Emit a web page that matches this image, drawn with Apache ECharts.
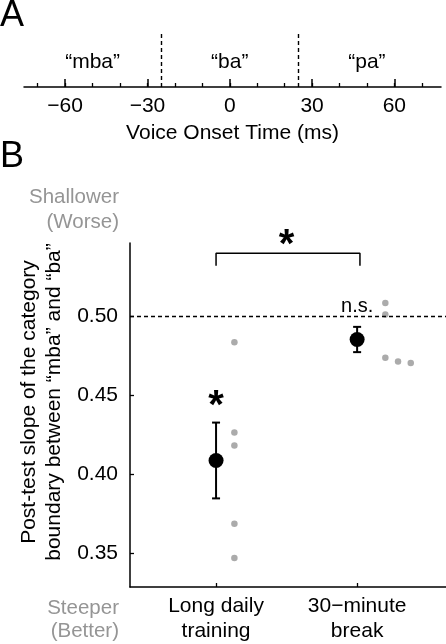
<!DOCTYPE html>
<html>
<head>
<meta charset="utf-8">
<script src="https://cdn.jsdelivr.net/npm/echarts@6/dist/echarts.min.js"></script>
<style>
html,body{margin:0;padding:0;background:#fff;}
#chart{width:446px;height:644px;}
</style>
</head>
<body>
<div id="chart"></div>
<script>
// ---------- Panel A data ----------
const aMajorTicks = [-60, -30, 0, 30, 60];
const aMinorTicks = [-70, -60, -50, -40, -30, -20, -10, 0, 10, 20, 30, 40, 50, 60, 70];
const aBoundaries = [-25, 25];
const aCategoryNames = ['“mba”', '“ba”', '“pa”'];
const aCategoryPos = [-50, 0, 50];

// ---------- Panel B data ----------
const groups = ['Long daily\ntraining', '30\u2212minute\nbreak'];
const groupPos = [1, 2];
const means = [0.4087, 0.4853];
const errLow = [0.3847, 0.4773];
const errHigh = [0.4327, 0.4933];
const dotsLong = [[1.13, 0.4836], [1.13, 0.4264], [1.13, 0.4182], [1.13, 0.3687], [1.13, 0.3469]];
const dotsBreak = [[2.2, 0.5084], [2.2, 0.5011], [2.2, 0.4738], [2.29, 0.4713], [2.38, 0.4704]];
const chanceLevel = 0.5;
const yTicks = [0.35, 0.40, 0.45, 0.50];
const bracketX = [1, 2.02];
const bracketY = [0.532, 0.5399];
const starMarks = [[1.5, 0.5504], [1, 0.4482]];
const nsMark = [2, 0.5061];

const FONT = '"Liberation Sans", Arial, Helvetica, sans-serif';
const FS = 21;
const GRAY_TEXT = '#959595';
const GRAY_DOT = '#ababab';

const chart = echarts.init(document.getElementById('chart'), null, {renderer: 'canvas'});

const option = {
  animation: false,
  backgroundColor: '#fff',
  textStyle: {fontFamily: FONT, color: '#000'},
  grid: [
    {left: 24, right: 5, top: 31, height: 56},
    {left: 24, right: 5, top: 31, height: 56},
    {left: 130, right: 0, top: 243, bottom: 55}
  ],
  xAxis: [
    {
      gridIndex: 0, type: 'value', min: -75, max: 77,
      axisLine: {show: true, lineStyle: {color: '#000', width: 1.5}},
      axisTick: {show: true, inside: true, length: 8, customValues: aMajorTicks, lineStyle: {color: '#000', width: 1.5}},
      axisLabel: {show: true, customValues: aMajorTicks, margin: 9, fontSize: FS, color: '#000', fontFamily: FONT,
        formatter: v => (v < 0 ? '\u2212' + Math.abs(v) : String(v))},
      splitLine: {show: false},
      name: 'Voice Onset Time (ms)', nameLocation: 'middle', nameGap: 36,
      nameTextStyle: {fontSize: FS, color: '#000', fontFamily: FONT}
    },
    {
      gridIndex: 1, type: 'value', min: -75, max: 77,
      axisLine: {show: false},
      axisTick: {show: true, inside: true, length: 4, customValues: aMinorTicks, lineStyle: {color: '#000', width: 1.3}},
      axisLabel: {show: false},
      splitLine: {show: false}
    },
    {
      gridIndex: 2, type: 'value', min: 0.39, max: 2.63,
      axisLine: {show: true, lineStyle: {color: '#000', width: 1.5}},
      axisTick: {show: true, inside: true, length: 4, customValues: groupPos, lineStyle: {color: '#000', width: 1.3}},
      axisLabel: {show: true, customValues: groupPos, margin: 7, fontSize: FS, lineHeight: 25, color: '#000', fontFamily: FONT,
        formatter: v => groups[groupPos.indexOf(v)] || ''},
      splitLine: {show: false}
    }
  ],
  yAxis: [
    {gridIndex: 0, type: 'value', min: 0, max: 1, show: false},
    {gridIndex: 1, type: 'value', min: 0, max: 1, show: false},
    {
      gridIndex: 2, type: 'value', min: 0.3286, max: 0.5464,
      axisLine: {show: true, lineStyle: {color: '#000', width: 1.5}},
      axisTick: {show: true, inside: true, length: 4, customValues: yTicks, lineStyle: {color: '#000', width: 1.3}},
      axisLabel: {show: true, customValues: yTicks, margin: 12, fontSize: FS, color: '#000', fontFamily: FONT,
        formatter: v => v.toFixed(2)},
      splitLine: {show: false},
      name: 'Post-test slope of the category\nboundary between “mba” and “ba”',
      nameLocation: 'middle', nameGap: 63, nameRotate: 90,
      nameTextStyle: {fontSize: FS, lineHeight: 25, color: '#000', fontFamily: FONT, padding: [0, 0, 0, 26]}
    }
  ],
  series: [
    // Panel A: boundaries
    {
      type: 'line', xAxisIndex: 0, yAxisIndex: 0, data: [], silent: true,
      markLine: {
        silent: true, symbol: ['none', 'none'], label: {show: false},
        lineStyle: {color: '#000', type: [4, 3], width: 1.4},
        data: aBoundaries.map(b => [{coord: [b, 0]}, {coord: [b, 1]}])
      }
    },
    // Panel A: category names
    {
      type: 'scatter', xAxisIndex: 0, yAxisIndex: 0, symbolSize: 0, silent: true,
      data: aCategoryPos.map((p, i) => ({value: [p, 0.446], name: aCategoryNames[i]})),
      itemStyle: {opacity: 1},
      label: {show: true, position: 'inside', formatter: p => p.name, fontSize: FS, color: '#000', fontFamily: FONT}
    },
    // Panel B: chance line
    {
      type: 'line', xAxisIndex: 2, yAxisIndex: 2, data: [], silent: true,
      markLine: {
        silent: true, symbol: ['none', 'none'], label: {show: false},
        lineStyle: {color: '#000', type: [4, 3], width: 1.4},
        data: [{yAxis: chanceLevel}]
      }
    },
    // Panel B: individual dots
    {
      type: 'scatter', xAxisIndex: 2, yAxisIndex: 2, symbol: 'circle', symbolSize: 6.5,
      itemStyle: {color: GRAY_DOT, opacity: 1}, data: dotsLong.concat(dotsBreak), silent: true
    },
    // Panel B: error bars
    {
      type: 'custom', xAxisIndex: 2, yAxisIndex: 2, silent: true,
      data: groupPos.map((p, i) => [p, errLow[i], errHigh[i]]),
      renderItem: function (params, api) {
        const x = api.value(0);
        const lo = api.coord([x, api.value(1)]);
        const hi = api.coord([x, api.value(2)]);
        const w = 4;
        const st = {stroke: '#000', lineWidth: 2};
        return {
          type: 'group', children: [
            {type: 'line', shape: {x1: lo[0], y1: lo[1], x2: hi[0], y2: hi[1]}, style: st},
            {type: 'line', shape: {x1: lo[0] - w, y1: lo[1], x2: lo[0] + w, y2: lo[1]}, style: st},
            {type: 'line', shape: {x1: hi[0] - w, y1: hi[1], x2: hi[0] + w, y2: hi[1]}, style: st}
          ]
        };
      }
    },
    // Panel B: means
    {
      type: 'scatter', xAxisIndex: 2, yAxisIndex: 2, symbol: 'circle', symbolSize: 15, silent: true,
      itemStyle: {color: '#000', opacity: 1}, data: groupPos.map((p, i) => [p, means[i]]), z: 5
    },
    // Panel B: bracket
    {
      type: 'line', xAxisIndex: 2, yAxisIndex: 2, symbol: 'none', silent: true, clip: false,
      lineStyle: {color: '#000', width: 1.5},
      data: [[bracketX[0], bracketY[0]], [bracketX[0], bracketY[1]], [bracketX[1], bracketY[1]], [bracketX[1], bracketY[0]]]
    },
    // Panel B: asterisks
    {
      type: 'scatter', xAxisIndex: 2, yAxisIndex: 2, symbolSize: 0, silent: true, clip: false,
      data: starMarks, itemStyle: {opacity: 1},
      label: {show: true, position: 'inside', formatter: '*', fontSize: 40, fontWeight: 'bold', color: '#000', fontFamily: FONT, offset: [0, 9]}
    },
    // Panel B: n.s.
    {
      type: 'scatter', xAxisIndex: 2, yAxisIndex: 2, symbolSize: 0, silent: true,
      data: [nsMark], itemStyle: {opacity: 1},
      label: {show: true, position: 'inside', formatter: 'n.s.', fontSize: 20, color: '#000', fontFamily: FONT}
    }
  ],
  graphic: [
    {type: 'text', left: 0, top: -2, style: {text: 'A', fontSize: 36, fill: '#000', fontFamily: FONT}},
    {type: 'text', left: 0, top: 139, style: {text: 'B', fontSize: 36, fill: '#000', fontFamily: FONT}},
    {type: 'text', x: 119, y: 210, style: {text: 'Shallower\n(Worse)', fontSize: 20.5, lineHeight: 25, fill: GRAY_TEXT, fontFamily: FONT, align: 'right', verticalAlign: 'middle'}},
    {type: 'text', x: 119, y: 620, style: {text: 'Steeper\n(Better)', fontSize: 20.5, lineHeight: 23, fill: GRAY_TEXT, fontFamily: FONT, align: 'right', verticalAlign: 'middle'}}
  ]
};
chart.setOption(option);
</script>
</body>
</html>
